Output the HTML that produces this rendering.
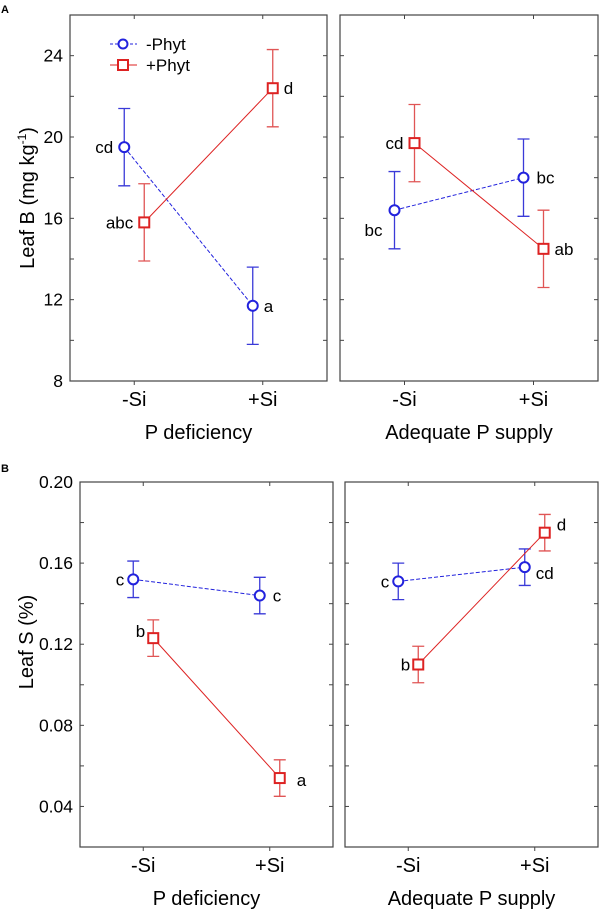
<!DOCTYPE html>
<html><head><meta charset="utf-8"><style>
html,body{margin:0;padding:0;background:#fff;}
svg{display:block;font-family:"Liberation Sans",Arial,sans-serif;}
</style></head><body>
<svg id="fig" width="602" height="913" viewBox="0 0 602 913" xmlns="http://www.w3.org/2000/svg">
<text x="1" y="13" font-size="11" font-weight="bold">A</text>
<text x="1" y="472" font-size="11" font-weight="bold">B</text>
<text transform="translate(34,198) rotate(-90)" text-anchor="middle" font-size="20">Leaf B (mg kg<tspan dy="-8" font-size="12">-1</tspan><tspan dy="8">)</tspan></text>
<text transform="translate(33,642) rotate(-90)" text-anchor="middle" font-size="20">Leaf S (%)</text>
<g>
<line x1="110" y1="44" x2="137" y2="44" stroke="#2222dd" stroke-dasharray="3,2" stroke-width="1"/>
<circle cx="123" cy="44" r="4.5" fill="#fff" stroke="#2222dd" stroke-width="2"/>
<text x="146" y="50" font-size="17">-Phyt</text>
<line x1="110" y1="65" x2="137" y2="65" stroke="#dd2222" stroke-width="1"/>
<rect x="118" y="60" width="10" height="10" fill="#fff" stroke="#dd2222" stroke-width="2"/>
<text x="146" y="71" font-size="17">+Phyt</text>
</g>
<g id="plots"></g>
</svg>
<script>
const categories = ["-Si", "+Si"];
const topYTicks = [8, 12, 16, 20, 24];
const botYTicks = [0.04, 0.08, 0.12, 0.16, 0.20];
const botTickLabels = ["0.04", "0.08", "0.12", "0.16", "0.20"];
// Leaf B
const bDefMinus = [19.5, 11.7], bDefMinusErr = [1.9, 1.9];
const bDefPlus = [15.8, 22.4], bDefPlusErr = [1.9, 1.9];
const bAdqMinus = [16.4, 18.0], bAdqMinusErr = [1.9, 1.9];
const bAdqPlus = [19.7, 14.5], bAdqPlusErr = [1.9, 1.9];
const bDefMinusLab = ["cd", "a"], bDefPlusLab = ["abc", "d"];
const bAdqMinusLab = ["bc", "bc"], bAdqPlusLab = ["cd", "ab"];
// Leaf S
const sDefMinus = [0.152, 0.144], sDefMinusErr = [0.009, 0.009];
const sDefPlus = [0.123, 0.054], sDefPlusErr = [0.009, 0.009];
const sAdqMinus = [0.151, 0.158], sAdqMinusErr = [0.009, 0.009];
const sAdqPlus = [0.110, 0.175], sAdqPlusErr = [0.009, 0.009];
const sDefMinusLab = ["c", "c"], sDefPlusLab = ["b", "a"];
const sAdqMinusLab = ["c", "cd"], sAdqPlusLab = ["b", "d"];

const NS = "http://www.w3.org/2000/svg";
const root = document.getElementById("plots");
function mk(tag, attrs, parent) {
  const e = document.createElementNS(NS, tag);
  for (const k in attrs) e.setAttribute(k, attrs[k]);
  (parent || root).appendChild(e);
  return e;
}
const BLUE = "#2222dd", RED = "#dd2222";

function panel(p) {
  const g = mk("g", {});
  
  
  const y = v => p.y1 - (v - p.ymin) / (p.ymax - p.ymin) * (p.y1 - p.y0);
  const x = i => p.x0 + (p.x1 - p.x0) * (0.25 + 0.5 * i);
  const fr = mk("rect", {x: p.x0, y: p.y0, width: p.x1 - p.x0, height: p.y1 - p.y0, fill: "none", stroke: "#444", "stroke-width": 1.2}, g);
  
  
  const step = p.ticks[1] - p.ticks[0];
  for (let v = p.ymin + step / 2; v < p.ymax - 1e-9; v += step / 2) {
    mk("line", {x1: p.x0, x2: p.x0 + 4, y1: y(v), y2: y(v), stroke: "#444"}, g);
    mk("line", {x1: p.x1, x2: p.x1 - 4, y1: y(v), y2: y(v), stroke: "#444"}, g);
  }
  if (p.showY) {
    p.ticks.forEach((v, i) => {
      const t = mk("text", {x: p.x0 - 7, y: y(v) + 6, "text-anchor": "end", "font-size": 17.5}, g);
      t.textContent = p.tickLabels[i];
      
      
    });
  }
  categories.forEach((c, i) => {
    mk("line", {x1: x(i), x2: x(i), y1: p.y1, y2: p.y1 + 4, stroke: "#444"}, g);
    mk("line", {x1: x(i), x2: x(i), y1: p.y0, y2: p.y0 + 4, stroke: "#444"}, g);
    const t = mk("text", {x: x(i), y: p.y1 + 25, "text-anchor": "middle", "font-size": 20}, g);
    t.textContent = c;
    
    
  });
  const xt = mk("text", {x: (p.x0 + p.x1) / 2, y: p.y1 + 58, "text-anchor": "middle", "font-size": 20}, g);
  xt.textContent = p.xtitle;
  
  

  [[p.minus, p.minusErr, p.minusLab, BLUE, -10, true], [p.plus, p.plusErr, p.plusLab, RED, 10, false]].forEach(s => {
    const [vals, errs, labs, col, off, isCirc] = s;
    const ec = isCirc ? "#3a3ad8" : "#e05555";
    const px = i => x(i) + off;
    const ln = mk("line", {x1: px(0), y1: y(vals[0]), x2: px(1), y2: y(vals[1]), stroke: col, "stroke-width": 1, "stroke-dasharray": isCirc ? "4,2" : "none"}, g);
    
    
    vals.forEach((v, i) => {
      const a = y(v + errs[i]), b = y(v - errs[i]);
      const eb = mk("path", {d: `M${px(i)},${a}V${b}M${px(i)-6},${a}H${px(i)+6}M${px(i)-6},${b}H${px(i)+6}`, stroke: ec, fill: "none", "stroke-width": 1.3}, g);
      
      
      let m;
      if (isCirc) m = mk("circle", {cx: px(i), cy: y(v), r: 5, fill: "#fff", stroke: col, "stroke-width": 2}, g);
      else m = mk("rect", {x: px(i) - 5, y: y(v) - 5, width: 10, height: 10, fill: "#fff", stroke: col, "stroke-width": 2}, g);
      
      
      const pos = p.labPos(isCirc, i);
      const t = mk("text", {x: px(i) + pos[0], y: y(v) + pos[1], "text-anchor": pos[0] < 0 ? "end" : "start", "font-size": 17}, g);
      t.textContent = labs[i];
      
      
    });
  });
}

panel({name: "panel-leaf-b-p-deficiency", x0: 70, x1: 327, y0: 15, y1: 381, ymin: 8, ymax: 26, ticks: topYTicks, tickLabels: topYTicks.map(String), showY: true,
  xtitle: "P deficiency", minus: bDefMinus, minusErr: bDefMinusErr, plus: bDefPlus, plusErr: bDefPlusErr, minusLab: bDefMinusLab, plusLab: bDefPlusLab,
  labPos: (c, i) => [i === 0 ? -11 : 11, 6]});
panel({name: "panel-leaf-b-adequate-p", x0: 340, x1: 598, y0: 15, y1: 381, ymin: 8, ymax: 26, ticks: topYTicks, tickLabels: topYTicks.map(String), showY: false,
  xtitle: "Adequate P supply", minus: bAdqMinus, minusErr: bAdqMinusErr, plus: bAdqPlus, plusErr: bAdqPlusErr, minusLab: bAdqMinusLab, plusLab: bAdqPlusLab,
  labPos: (c, i) => c ? (i === 0 ? [-12, 26] : [13, 6]) : (i === 0 ? [-11, 6] : [11, 6])});
panel({name: "panel-leaf-s-p-deficiency", x0: 80, x1: 333, y0: 482, y1: 847, ymin: 0.02, ymax: 0.20, ticks: botYTicks, tickLabels: botTickLabels, showY: true,
  xtitle: "P deficiency", minus: sDefMinus, minusErr: sDefMinusErr, plus: sDefPlus, plusErr: sDefPlusErr, minusLab: sDefMinusLab, plusLab: sDefPlusLab,
  labPos: (c, i) => c ? (i === 0 ? [-9, 6] : [13, 6]) : (i === 0 ? [-8, -1] : [17, 8])});
panel({name: "panel-leaf-s-adequate-p", x0: 345, x1: 598, y0: 482, y1: 847, ymin: 0.02, ymax: 0.20, ticks: botYTicks, tickLabels: botTickLabels, showY: false,
  xtitle: "Adequate P supply", minus: sAdqMinus, minusErr: sAdqMinusErr, plus: sAdqPlus, plusErr: sAdqPlusErr, minusLab: sAdqMinusLab, plusLab: sAdqPlusLab,
  labPos: (c, i) => c ? (i === 0 ? [-9, 6] : [11, 12]) : (i === 0 ? [-8, 6] : [12, -2])});
</script>
</body></html>
